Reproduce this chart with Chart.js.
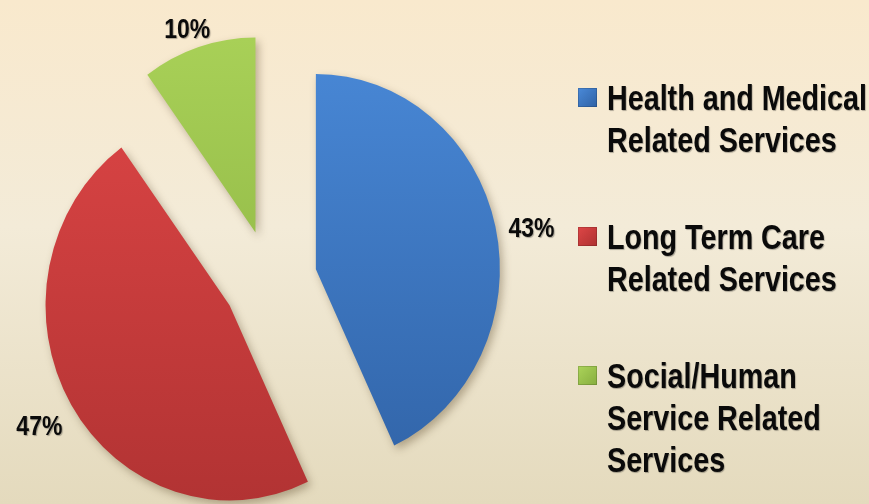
<!DOCTYPE html>
<html>
<head>
<meta charset="utf-8">
<script src="https://cdn.jsdelivr.net/npm/chart.js@4/dist/chart.umd.min.js"></script>
<style>
  html, body { margin: 0; padding: 0; }
  body {
    width: 869px; height: 504px; overflow: hidden; position: relative;
    background: linear-gradient(to bottom, #f9e9cd 0%, #f3ebd8 45%, #e4dabd 100%);
  }
  #wrap { position: absolute; left: 0; top: 0; width: 869px; height: 504px; }
  #legend {
    position: absolute; left: 578px; top: 77px;
    display: flex; flex-direction: column; gap: 55px;
  }
  .item { display: flex; align-items: flex-start; }
  .box { width: 19px; height: 19px; margin-top: 11px; margin-right: 10px; flex: none; }
  /* Arial Narrow look: Liberation Sans squeezed sideways */
  .txt {
    width: 323px;
    margin-right: -58px;
    font: bold 35px/42px 'Liberation Sans', Arial, sans-serif;
    color: #0a0a0a;
    text-shadow: 1px 1px 1px rgba(0, 0, 0, 0.3);
    transform: scaleX(0.82);
    transform-origin: 0 0;
  }
</style>
</head>
<body>
<div id="wrap"><canvas id="pieChart" width="869" height="504"></canvas></div>
<div id="legend"></div>
<script>
const categories = ['Health and Medical Related Services', 'Long Term Care Related Services', 'Social/Human Service Related Services'];
const shares = [43, 47, 10];
const topColors = ['#4a8ad9', '#de4646', '#acd45a'];
const bottomColors = ['#2f61a4', '#ad3131', '#86ad3e'];

const EXPLODE = 47;   // how far each slice is pulled out
const SQUASH = 1.06;  // the original pie is a little taller than wide
const RADIUS = 184;
const NARROW = 0.82;

function sliceFill(c) {
  const chart = c.chart;
  const area = chart.chartArea;
  if (!area) return topColors[c.dataIndex];
  const cy = (area.top + area.bottom) / 2;
  const g = chart.ctx.createLinearGradient(0, cy - RADIUS - EXPLODE, 0, cy + RADIUS + EXPLODE);
  g.addColorStop(0, topColors[c.dataIndex]);
  g.addColorStop(1, bottomColors[c.dataIndex]);
  return g;
}

// draws the slices pulled out from the centre, with a soft shadow
const explodePie = {
  id: 'explodePie',
  beforeDatasetsDraw(chart) {
    const ctx = chart.ctx;
    const arcs = chart.getDatasetMeta(0).data;
    ctx.save();
    ctx.shadowColor = 'rgba(70, 50, 20, 0.35)';
    ctx.shadowBlur = 8;
    ctx.shadowOffsetX = 3;
    ctx.shadowOffsetY = 4;
    arcs.forEach(arc => {
      const mid = (arc.startAngle + arc.endAngle) / 2;
      ctx.save();
      ctx.translate(arc.x, arc.y);
      ctx.scale(1, SQUASH);
      ctx.translate(Math.cos(mid) * EXPLODE - arc.x, Math.sin(mid) * EXPLODE - arc.y);
      arc.draw(ctx);
      ctx.restore();
    });
    ctx.restore();
    return false;
  },
  afterDraw(chart) {
    const ctx = chart.ctx;
    const arcs = chart.getDatasetMeta(0).data;
    ctx.save();
    ctx.font = "bold 28px 'Liberation Sans', Arial, sans-serif";
    ctx.fillStyle = '#0a0a0a';
    ctx.textAlign = 'center';
    ctx.textBaseline = 'middle';
    ctx.shadowColor = 'rgba(0, 0, 0, 0.3)';
    ctx.shadowBlur = 1;
    ctx.shadowOffsetX = 1;
    ctx.shadowOffsetY = 1;
    arcs.forEach((arc, i) => {
      const mid = (arc.startAngle + arc.endAngle) / 2;
      const dx = Math.cos(mid);
      const dy = Math.sin(mid) * SQUASH;
      const r = arc.outerRadius + EXPLODE + 14;
      const text = shares[i] + '%';
      const w = ctx.measureText(text).width * NARROW;
      const x = arc.x + dx * r + dx * w / 2;
      const y = arc.y + dy * r + dy * 12 + 9;
      ctx.save();
      ctx.translate(x, y);
      ctx.scale(NARROW, 1);
      ctx.fillText(text, 0, 0);
      ctx.restore();
    });
    ctx.restore();
  }
};

const chart = new Chart(document.getElementById('pieChart'), {
  type: 'pie',
  data: {
    labels: categories,
    datasets: [{
      data: shares,
      backgroundColor: sliceFill,
      borderWidth: 0
    }]
  },
  options: {
    responsive: false,
    animation: false,
    radius: RADIUS,
    layout: { padding: { left: 60, right: 389, top: 60, bottom: 4 } },
    plugins: {
      legend: { display: false },
      tooltip: { enabled: false }
    }
  },
  plugins: [explodePie]
});

// legend as html so the labels can wrap like the original
const legendEl = document.getElementById('legend');
categories.forEach((name, i) => {
  const item = document.createElement('div');
  item.className = 'item';
  const box = document.createElement('div');
  box.className = 'box';
  box.style.background = 'linear-gradient(135deg, ' + topColors[i] + ', ' + bottomColors[i] + ')';
  box.style.boxShadow = 'inset 0 0 0 1px rgba(0,0,0,0.15)';
  const txt = document.createElement('div');
  txt.className = 'txt';
  txt.textContent = name;
  item.appendChild(box);
  item.appendChild(txt);
  legendEl.appendChild(item);
});
</script>
</body>
</html>
